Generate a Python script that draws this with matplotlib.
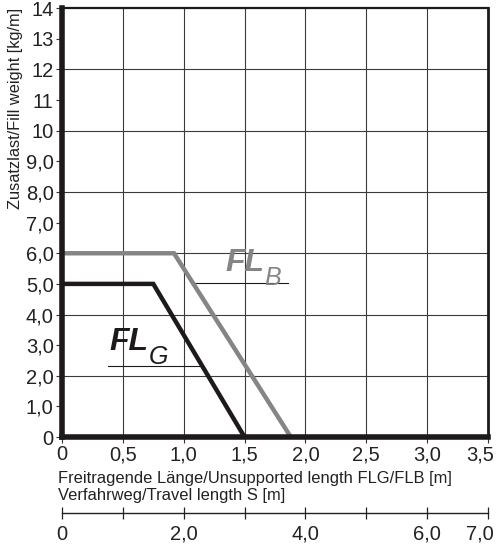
import matplotlib
matplotlib.use("Agg")
import matplotlib.pyplot as plt
import matplotlib.transforms as mtransforms

plt.rcParams["font.family"] = ["Liberation Sans", "DejaVu Sans"]

# curve data
flb_x = [0.0, 0.92, 1.88]
flb_y = [6.0, 6.0, 0.0]
flg_x = [0.0, 0.75, 1.5]
flg_y = [5.0, 5.0, 0.0]

y_ticks = list(range(0, 15))
y_labels = ["0", "1,0", "2,0", "3,0", "4,0", "5,0", "6,0", "7,0", "8,0", "9,0",
            "10", "11", "12", "13", "14"]
x_ticks = [0, 0.5, 1.0, 1.5, 2.0, 2.5, 3.0, 3.5]
x_labels = ["0", "0,5", "1,0", "1,5", "2,0", "2,5", "3,0", "3,5"]
s_ticks = [0, 0.5, 1.0, 1.5, 2.0, 2.5, 3.0, 3.5]
s_labels = ["0", "", "2,0", "", "4,0", "", "6,0", "7,0"]

fig = plt.figure(figsize=(5.0, 5.47), dpi=100)
ax = fig.add_axes([0.124, 0.201, 0.852, 0.784])
ax.set_xlim(0, 3.5)
ax.set_ylim(0, 14)

# grid: vertical every 0.5, horizontal every 2
for xv in x_ticks[1:-1]:
    ax.axvline(xv, color="#3a3a3a", lw=0.8, zorder=1)
for yv in range(2, 14, 2):
    ax.axhline(yv, color="#3a3a3a", lw=0.8, zorder=1)

ax.plot(flb_x, flb_y, color="#858585", lw=3.2, solid_joinstyle="miter", zorder=3)
ax.plot(flg_x, flg_y, color="#1e1a1a", lw=3.2, solid_joinstyle="miter", zorder=3)


def curve_label(x, y, sub, color):
    main = ax.text(x, y, "FL", color=color, fontsize=23, fontweight="bold",
                   style="italic", va="baseline", ha="left", zorder=4)
    ax.annotate(sub, xy=(1, 0), xycoords=main, xytext=(0, -5),
                textcoords="offset points", color=color, fontsize=18,
                style="italic", va="baseline", ha="left", zorder=4)


curve_label(1.34, 5.42, "B", "#858585")
ax.plot([1.09, 1.86], [5.03, 5.03], color="#1e1a1a", lw=0.8, zorder=2)

curve_label(0.39, 2.84, "G", "#1e1a1a")
ax.plot([0.38, 1.13], [2.32, 2.32], color="#1e1a1a", lw=0.8, zorder=2)

ax.set_xticks(x_ticks)
ax.set_xticklabels(x_labels, fontsize=14.5, color="#222222")
ax.set_yticks(y_ticks)
ax.set_yticklabels(y_labels, fontsize=14.5, color="#222222")
ax.tick_params(axis="both", direction="out", length=4, width=0.8, color="#333333", pad=2)

for side, w in [("left", 4.0), ("bottom", 4.0), ("top", 1.6), ("right", 2.0)]:
    ax.spines[side].set_linewidth(w)
    ax.spines[side].set_color("#1e1a1a")
    ax.spines[side].set_zorder(5)

fig.text(0.016, 0.985, "Zusatzlast/Fill weight [kg/m]", rotation=90, fontsize=11.8,
         ha="left", va="top", color="#222222")
fig.text(0.116, 0.117, "Freitragende Länge/Unsupported length FLG/FLB [m]",
         fontsize=11.9, ha="left", va="baseline", color="#222222")
fig.text(0.116, 0.086, "Verfahrweg/Travel length S [m]",
         fontsize=11.9, ha="left", va="baseline", color="#222222")

# secondary travel length scale (S = 2 x FL)
ax2 = fig.add_axes([0.124, 0.062, 0.852, 0.001])
ax2.set_xlim(0, 3.5)
ax2.set_yticks([])
for side in ["left", "right", "top"]:
    ax2.spines[side].set_visible(False)
ax2.spines["bottom"].set_linewidth(1.0)
ax2.spines["bottom"].set_color("#222222")
ax2.set_xticks(s_ticks)
ax2.set_xticklabels(s_labels, fontsize=14.5, color="#222222")
ax2.tick_params(axis="x", direction="inout", length=9, width=0.9, color="#222222", pad=4)
ax2.patch.set_visible(False)

# nudge the last labels inward so they stay inside the picture
shift = mtransforms.ScaledTranslation(-6 / 72, 0, fig.dpi_scale_trans)
for lab in (ax.get_xticklabels()[-1], ax2.get_xticklabels()[-1]):
    lab.set_transform(lab.get_transform() + shift)

fig.savefig("out.png", dpi=100)
